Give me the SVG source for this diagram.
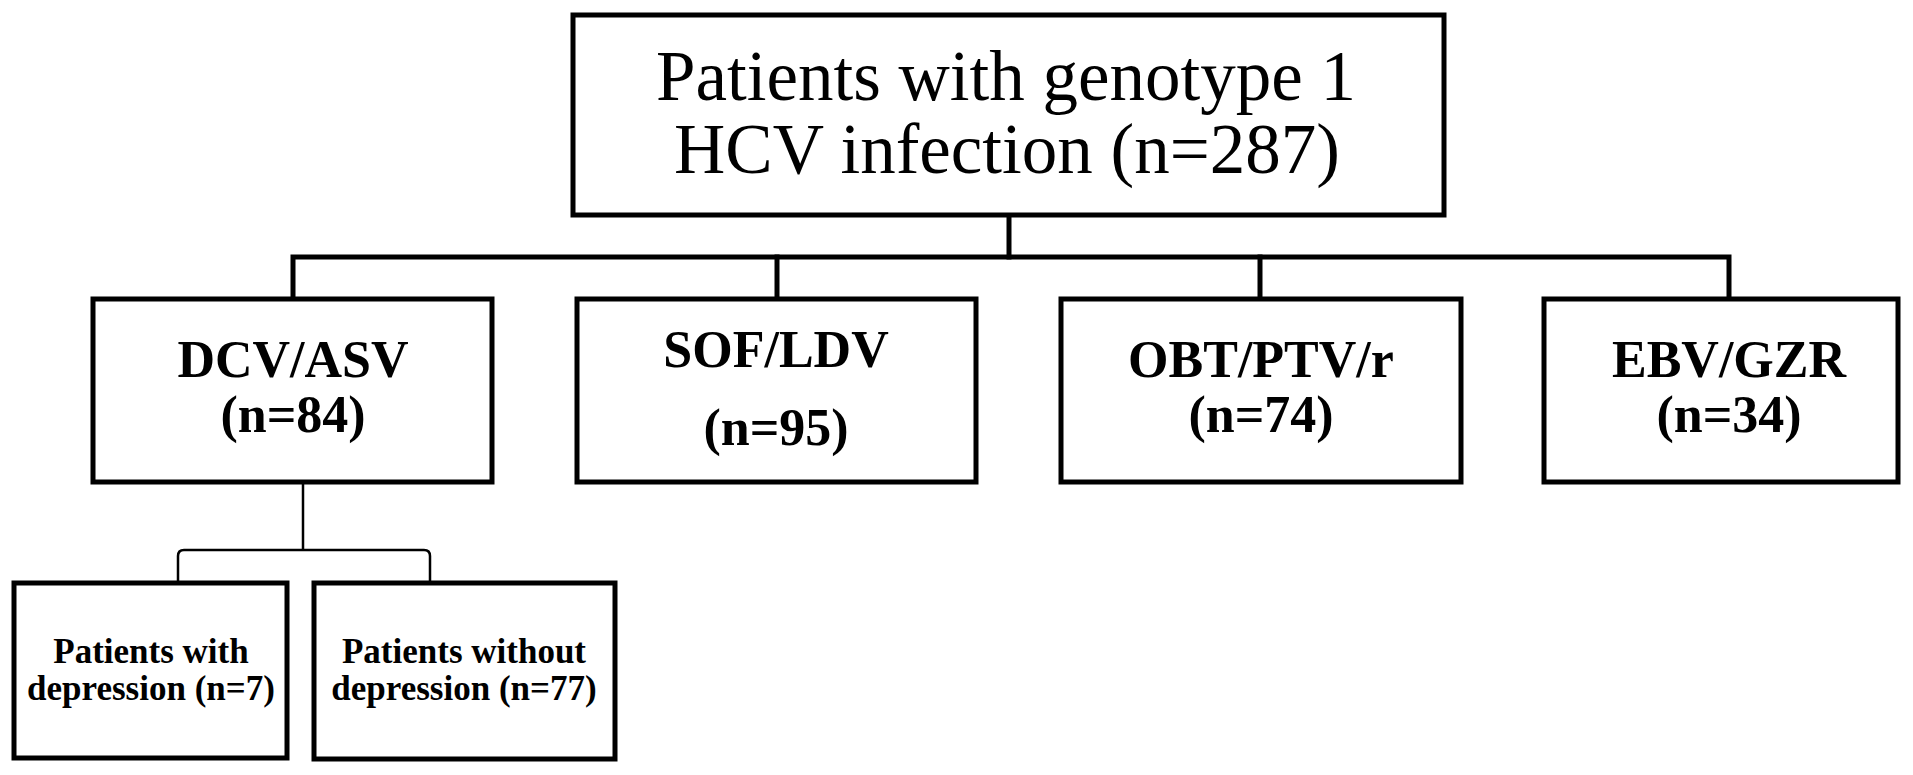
<svg xmlns="http://www.w3.org/2000/svg" width="1913" height="775" viewBox="0 0 1913 775">
<style>
.box{fill:#fff;stroke:#000;stroke-width:5;stroke-linejoin:miter}
.conn{fill:none;stroke:#000;stroke-width:5;stroke-linejoin:miter;stroke-linecap:square}
.thin{fill:none;stroke:#000;stroke-width:2.5}
.t{font-family:"Liberation Serif","Times New Roman",serif;text-anchor:middle;fill:#000}
.big{font-size:71px}
.mid{font-size:52px;font-weight:bold}
.sm{font-size:35px;font-weight:bold}
</style>
<rect width="1913" height="775" fill="#fff"/>
<g id="connectors">
<path class="conn" d="M1009,215 V257"/>
<path class="conn" d="M293,299 V257 H1729 V299"/>
<path class="conn" d="M777,257 V299"/>
<path class="conn" d="M1260,257 V299"/>
<path class="thin" d="M303,482 V550"/>
<path class="thin" d="M178,583 V556 Q178,550 184,550 H424 Q430,550 430,556 V583"/>
</g>
<g id="root">
<rect class="box" x="573" y="15" width="871" height="200"/>
<text class="t big" x="1006" y="100">Patients with genotype 1</text>
<text class="t big" x="1007" y="173">HCV infection (n=287)</text>
</g>
<g id="dcv">
<rect class="box" x="93" y="299" width="399" height="183"/>
<text class="t mid" x="293" y="377">DCV/ASV</text>
<text class="t mid" x="293" y="432">(n=84)</text>
</g>
<g id="sof">
<rect class="box" x="577" y="299" width="399" height="183"/>
<text class="t mid" x="776" y="367">SOF/LDV</text>
<text class="t mid" x="776" y="445">(n=95)</text>
</g>
<g id="obt">
<rect class="box" x="1061" y="299" width="400" height="183"/>
<text class="t mid" x="1261" y="377">OBT/PTV/r</text>
<text class="t mid" x="1261" y="432">(n=74)</text>
</g>
<g id="ebv">
<rect class="box" x="1544" y="299" width="354" height="183"/>
<text class="t mid" x="1729" y="377">EBV/GZR</text>
<text class="t mid" x="1729" y="432">(n=34)</text>
</g>
<g id="with-dep">
<rect class="box" x="14" y="583" width="273" height="175"/>
<text class="t sm" x="151" y="663">Patients with</text>
<text class="t sm" x="151" y="700">depression (n=7)</text>
</g>
<g id="without-dep">
<rect class="box" x="314" y="583" width="301" height="176"/>
<text class="t sm" x="464" y="663">Patients without</text>
<text class="t sm" x="464" y="700">depression (n=77)</text>
</g>
</svg>
